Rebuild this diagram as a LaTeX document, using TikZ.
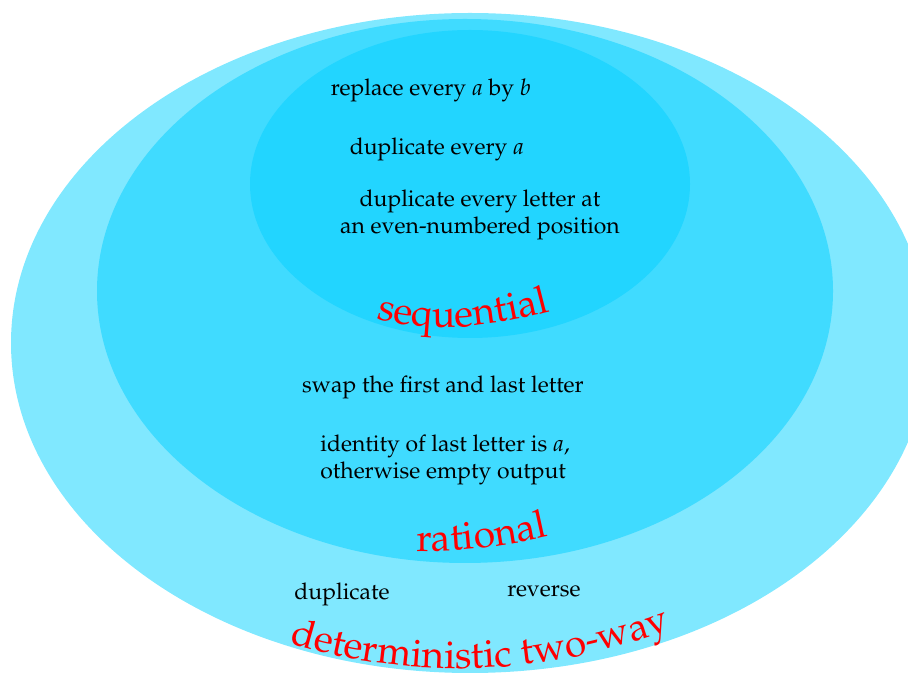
\documentclass[tikz,border=0pt]{standalone}
\usepackage[T1]{fontenc}
\usepackage{mathpazo}
\usetikzlibrary{decorations.text}
\definecolor{twowaycol}{RGB}{128,232,255}
\definecolor{ratcol}{RGB}{64,219,255}
\definecolor{seqcol}{RGB}{34,213,255}

\begin{document}
\begin{tikzpicture}[x=0.017621cm,y=-0.017621cm,
  fn/.style={inner sep=0pt,font=\fontsize{11.5}{13.6}\selectfont},
  clsname/.style={decorate,decoration={text along path,text color=red,
    text align=center,text={|\fontsize{19.5}{20}\selectfont|#1}}}]
  \useasboundingbox (0,0) rectangle (908,673);
  \clip (0,0) rectangle (908,673);

  \fill[twowaycol] (470,343) ellipse [x radius=459,y radius=330];
  \fill[ratcol] (465,291) ellipse [x radius=368,y radius=272];
  \fill[seqcol] (470,184) ellipse [x radius=220,y radius=154];

  \node[fn,anchor=base] (repl) at (431,96) {replace every $a$ by $b$};
  \node[fn,anchor=base] (dupa) at (437,155) {duplicate every $a$};
  \node[fn,align=center] (dupeven) at (480,215)
    {duplicate every letter at\\an even-numbered position};
  \path[clsname=sequential] (375,318) .. controls (422,333) and (481,330) .. (552,311);

  \node[fn,anchor=base] (swap) at (443,393) {swap the first and last letter};
  \node[fn,align=left,anchor=west] (ident) at (320,460)
    {identity of last letter is $a$,\\otherwise empty output};
  \path[clsname=rational] (415,551) .. controls (457,552) and (502,547) .. (550,536);

  \node[fn,anchor=base] (dup) at (342,600) {duplicate};
  \node[fn,anchor=base] (rev) at (544,597) {reverse};
  \path[clsname={deterministic two-way}] (292,644) .. controls (417,681) and (543,676) .. (668,630);
\end{tikzpicture}
\end{document}
